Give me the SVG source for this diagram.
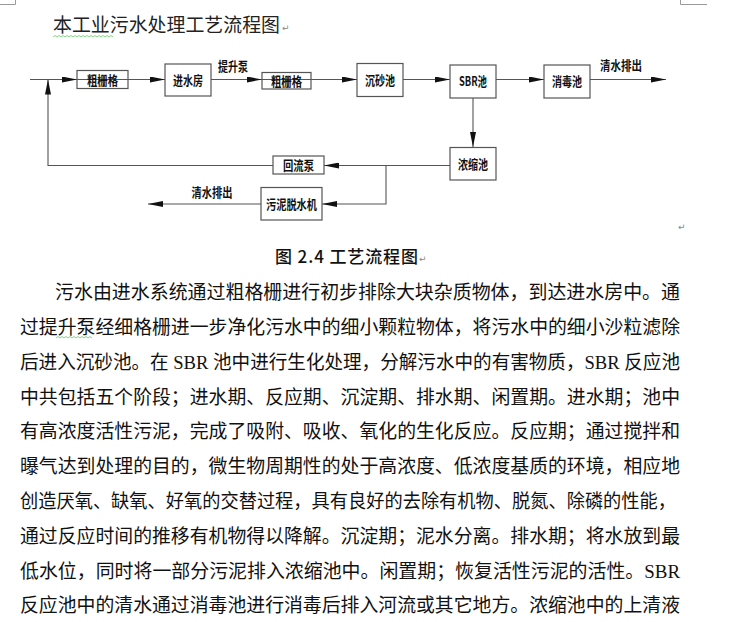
<svg xmlns="http://www.w3.org/2000/svg" width="741" height="622" viewBox="0 0 741 622">
<style>
.bg{fill:#fff}
.box{fill:none;stroke:#555;stroke-width:1.2}
.lbl{font-family:"Noto Sans CJK SC","Liberation Sans",sans-serif;font-size:13px;font-weight:bold;fill:#111;text-anchor:middle}
.con{fill:none;stroke:#555;stroke-width:1.1}
.body{font-family:"Liberation Serif","Noto Sans CJK SC",serif;font-size:19px;fill:#111}
.title{font-family:"Noto Sans CJK SC","Liberation Sans",sans-serif;font-size:19px;fill:#222}
.cap{font-family:"Noto Sans CJK SC","Liberation Sans",sans-serif;font-size:17px;font-weight:500;fill:#111}
.ret{font-family:"DejaVu Sans",sans-serif;font-size:9px;fill:#888}
.mark{fill:none;stroke:#999;stroke-width:1}
.wavy{fill:none;stroke:#6c6;stroke-width:0.8}
</style>
<defs>
<marker id="ah" markerUnits="userSpaceOnUse" markerWidth="15" markerHeight="6" refX="15" refY="3" orient="auto" viewBox="0 0 15 6">
<path d="M0,0 L15,3 L0,6 Z" fill="#111"/>
</marker>
</defs>
<rect class="bg" x="0" y="0" width="741" height="622"/>
<path class="mark" d="M0,4.5 H15.5 V0 M680.5,0 V4.5 H707"/>

<text class="title" x="53" y="32" textLength="227" lengthAdjust="spacingAndGlyphs">本工业污水处理工艺流程图</text>
<text class="ret" x="282" y="31">↵</text>
<path class="wavy" d="M53,37 l2,-1.5 l2,1.5 l2,-1.5 l2,1.5 l2,-1.5 l2,1.5 l2,-1.5 l2,1.5 l2,-1.5 l2,1.5 l2,-1.5 l2,1.5 l2,-1.5 l2,1.5 l2,-1.5 l2,1.5 l2,-1.5 l2,1.5 l2,-1.5 l2,1.5 l2,-1.5 l2,1.5 l2,-1.5 l2,1.5 l2,-1.5 l2,1.5 l2,-1.5 l2,1.5 l2,-1.5 l2,1.5"/>

<g id="connectors">
<path class="con" d="M30,79.5 H77" marker-end="url(#ah)"/>
<path class="con" d="M77,79.5 H165" marker-end="url(#ah)"/>
<path class="con" d="M211,79.5 H262" marker-end="url(#ah)"/>
<path class="con" d="M262,79.5 H357" marker-end="url(#ah)"/>
<path class="con" d="M403,79.5 H450" marker-end="url(#ah)"/>
<path class="con" d="M496,79.5 H544" marker-end="url(#ah)"/>
<path class="con" d="M590,79.5 H666" marker-end="url(#ah)"/>
<path class="con" d="M473,98 V147" marker-end="url(#ah)"/>
<path class="con" d="M450,165.5 H324" marker-end="url(#ah)"/>
<path class="con" d="M386,165.5 V204 H322" marker-end="url(#ah)"/>
<path class="con" d="M261,204 H148" marker-end="url(#ah)"/>
<path class="con" d="M273,165.5 H48 V79.5" marker-end="url(#ah)"/>
<text class="lbl" x="233" y="71" textLength="30" lengthAdjust="spacingAndGlyphs">提升泵</text>
<text class="lbl" x="621" y="70" textLength="42" lengthAdjust="spacingAndGlyphs">清水排出</text>
<text class="lbl" x="212" y="197" textLength="41" lengthAdjust="spacingAndGlyphs">清水排出</text>
</g>

<g id="n_cugeshan1">
<rect class="box" x="77" y="70.5" width="51" height="18"/>
<text class="lbl" x="102.5" y="84.5" textLength="31" lengthAdjust="spacingAndGlyphs">粗栅格</text>
</g>
<g id="n_jinshuifang">
<rect class="box" x="165" y="64" width="46" height="32"/>
<text class="lbl" x="188" y="85" textLength="30" lengthAdjust="spacingAndGlyphs">进水房</text>
</g>
<g id="n_cugeshan2">
<rect class="box" x="262" y="72.5" width="49" height="16.5"/>
<text class="lbl" x="286.5" y="85.5" textLength="31" lengthAdjust="spacingAndGlyphs">粗栅格</text>
</g>
<g id="n_chenshachi">
<rect class="box" x="357" y="63.5" width="46" height="33"/>
<text class="lbl" x="380" y="85" textLength="30" lengthAdjust="spacingAndGlyphs">沉砂池</text>
</g>
<g id="n_sbr">
<rect class="box" x="450" y="65" width="46" height="33"/>
<text class="lbl" x="473" y="86" textLength="28" lengthAdjust="spacingAndGlyphs">SBR池</text>
</g>
<g id="n_xiaoduchi">
<rect class="box" x="544" y="65" width="46" height="33"/>
<text class="lbl" x="567" y="86" textLength="30" lengthAdjust="spacingAndGlyphs">消毒池</text>
</g>
<g id="n_nongsuochi">
<rect class="box" x="450" y="147.5" width="46" height="32.5"/>
<text class="lbl" x="473" y="169" textLength="30" lengthAdjust="spacingAndGlyphs">浓缩池</text>
</g>
<g id="n_huiliubeng">
<rect class="box" x="273" y="156" width="51" height="18"/>
<text class="lbl" x="298.5" y="170" textLength="31" lengthAdjust="spacingAndGlyphs">回流泵</text>
</g>
<g id="n_wunituoshuiji">
<rect class="box" x="261" y="187.5" width="61" height="32.5"/>
<text class="lbl" x="291.5" y="209" textLength="51" lengthAdjust="spacingAndGlyphs">污泥脱水机</text>
</g>
<text class="ret" x="678" y="230">↵</text>

<text class="cap" x="275" y="263" textLength="143" lengthAdjust="spacing">图 2.4 工艺流程图</text>
<text class="ret" x="419" y="262">↵</text>

<g id="bodytext">
<text class="body" x="55" y="299" textLength="625" lengthAdjust="spacingAndGlyphs">污水由进水系统通过粗格栅进行初步排除大块杂质物体，到达进水房中。通</text>
<text class="body" x="20" y="334" textLength="660" lengthAdjust="spacingAndGlyphs">过提升泵经细格栅进一步净化污水中的细小颗粒物体，将污水中的细小沙粒滤除</text>
<text class="body" x="20" y="369" textLength="660" lengthAdjust="spacingAndGlyphs">后进入沉砂池。在 SBR 池中进行生化处理，分解污水中的有害物质，SBR 反应池</text>
<text class="body" x="20" y="404" textLength="660" lengthAdjust="spacingAndGlyphs">中共包括五个阶段；进水期、反应期、沉淀期、排水期、闲置期。进水期；池中</text>
<text class="body" x="20" y="438" textLength="660" lengthAdjust="spacingAndGlyphs">有高浓度活性污泥，完成了吸附、吸收、氧化的生化反应。反应期；通过搅拌和</text>
<text class="body" x="20" y="473" textLength="660" lengthAdjust="spacingAndGlyphs">曝气达到处理的目的，微生物周期性的处于高浓度、低浓度基质的环境，相应地</text>
<text class="body" x="20" y="508" textLength="656" lengthAdjust="spacingAndGlyphs">创造厌氧、缺氧、好氧的交替过程，具有良好的去除有机物、脱氮、除磷的性能，</text>
<text class="body" x="20" y="543" textLength="660" lengthAdjust="spacingAndGlyphs">通过反应时间的推移有机物得以降解。沉淀期；泥水分离。排水期；将水放到最</text>
<text class="body" x="20" y="578" textLength="660" lengthAdjust="spacingAndGlyphs">低水位，同时将一部分污泥排入浓缩池中。闲置期；恢复活性污泥的活性。SBR</text>
<text class="body" x="20" y="612" textLength="660" lengthAdjust="spacingAndGlyphs">反应池中的清水通过消毒池进行消毒后排入河流或其它地方。浓缩池中的上清液</text>
</g>
<path class="wavy" d="M56,338 l2,-1.5 l2,1.5 l2,-1.5 l2,1.5 l2,-1.5 l2,1.5 l2,-1.5 l2,1.5 l2,-1.5 l2,1.5 l2,-1.5 l2,1.5 l2,-1.5 l2,1.5 l2,-1.5 l2,1.5 l2,-1.5 l2,1.5"/>
</svg>
